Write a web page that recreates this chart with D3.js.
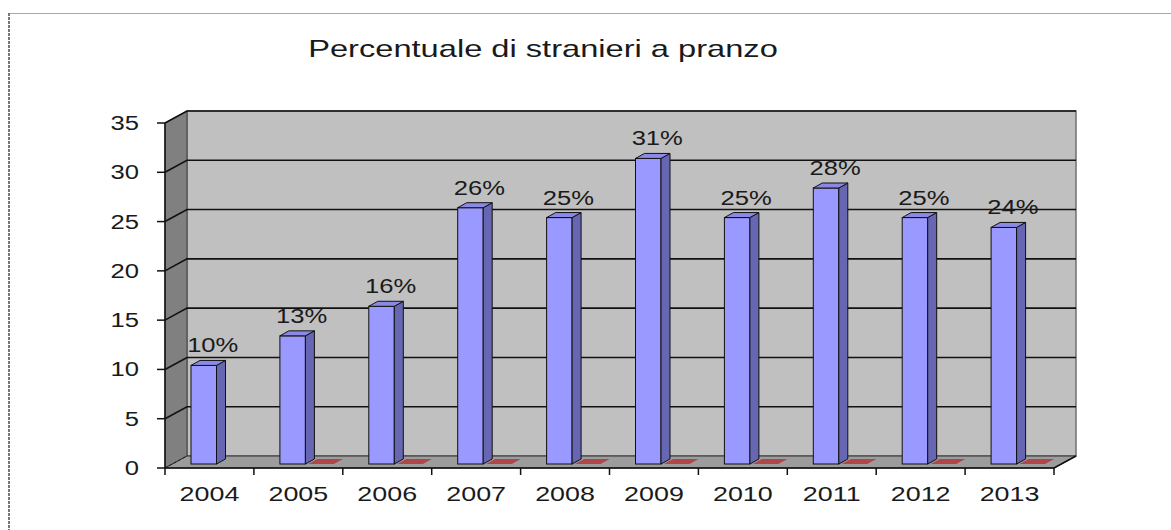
<!DOCTYPE html>
<html><head><meta charset="utf-8">
<script src="https://cdn.jsdelivr.net/npm/d3@7"></script>
<style>body{margin:0;background:#fff;} svg{display:block;}</style>
</head><body>
<svg id="c" width="1171" height="530"></svg>
<script>
const title = "Percentuale di stranieri a pranzo";
const categories = ["2004","2005","2006","2007","2008","2009","2010","2011","2012","2013"];
const values = [10,13,16,26,25,31,25,28,25,24];
const series2 = [null,0,0,0,0,0,0,0,0,0];
const yTicks = [0,5,10,15,20,25,30,35];

const svg = d3.select("#c");
const font = "'Liberation Sans', Arial, sans-serif";
const SX = 1.28;

// frame
svg.append("line").attr("x1",8.5).attr("x2",1171).attr("y1",13.5).attr("y2",13.5).attr("stroke","#a8a8a8").attr("stroke-width",1);
svg.append("line").attr("x1",9).attr("x2",9).attr("y1",13).attr("y2",530).attr("stroke","#777").attr("stroke-width",2).attr("stroke-dasharray","3,1");

const x0 = 165, x1 = 1054;
const depthX = 22, depthY = -12;
const x = d3.scaleBand().domain(categories).range([x0, x1]).padding(0);
const y = d3.scaleLinear().domain([0,35]).range([468,123]);

const g = svg.append("g");
// back wall
g.append("rect").attr("x",x0+depthX).attr("y",y(35)+depthY).attr("width",x1-x0).attr("height",y(0)-y(35))
 .attr("fill","#c0c0c0").attr("stroke","#707070").attr("stroke-width",1.5);
// side wall
g.append("polygon").attr("points",[[x0,y(35)],[x0+depthX,y(35)+depthY],[x0+depthX,y(0)+depthY],[x0,y(0)]].join(" "))
 .attr("fill","#808080").attr("stroke","#404040").attr("stroke-width",1);
// floor
g.append("polygon").attr("points",[[x0,y(0)],[x0+depthX,y(0)+depthY],[x1+depthX,y(0)+depthY],[x1,y(0)]].join(" "))
 .attr("fill","#9c9c9c").attr("stroke","#303030").attr("stroke-width",1);
// gridlines
yTicks.forEach(t => {
  if (t===0) return;
  g.append("polyline").attr("points",[[x0,y(t)],[x0+depthX,y(t)+depthY],[x1+depthX,y(t)+depthY]].join(" "))
   .attr("fill","none").attr("stroke","#111").attr("stroke-width",1.6);
});
// dashed base line on side wall at 0
g.append("line").attr("x1",x0).attr("y1",y(0)).attr("x2",x0+depthX).attr("y2",y(0)+depthY)
 .attr("stroke","#222").attr("stroke-dasharray","3,2").attr("stroke-width",1);

// axes
g.append("line").attr("x1",x0).attr("x2",x0).attr("y1",y(35)).attr("y2",y(0)).attr("stroke","#111").attr("stroke-width",1.5);
g.append("line").attr("x1",x0).attr("x2",x1).attr("y1",y(0)).attr("y2",y(0)).attr("stroke","#111").attr("stroke-width",1.5);
g.append("line").attr("x1",x1).attr("x2",x1+depthX).attr("y1",y(0)).attr("y2",y(0)+depthY).attr("stroke","#111").attr("stroke-width",1.5);

// y ticks and labels
yTicks.forEach(t => {
  g.append("line").attr("x1",x0-8).attr("x2",x0).attr("y1",y(t)).attr("y2",y(t)).attr("stroke","#111").attr("stroke-width",1.5);
  g.append("text").attr("transform",`translate(139,${y(t)+7}) scale(${SX},1)`).attr("text-anchor","end")
   .attr("font-family",font).attr("font-size",20).attr("fill","#1a1a1a").text(t);
});
// x ticks
const bounds = categories.map(c => x(c)).concat([x1]);
bounds.forEach(b => {
  g.append("line").attr("x1",b).attr("x2",b).attr("y1",y(0)).attr("y2",y(0)+7).attr("stroke","#111").attr("stroke-width",1.5);
});
categories.forEach(c => {
  g.append("text").attr("transform",`translate(${x(c)+x.bandwidth()/2},501) scale(${SX},1)`).attr("text-anchor","middle")
   .attr("font-family",font).attr("font-size",21).attr("fill","#1a1a1a").text(c);
});

// bars
const bw = 25.5, off = 26, bdx = 9, bdy = -5, baseShift = -4;
function bar3d(px, v, colFront, colSide, colTop) {
  const yb = y(0) + baseShift, yt = y(v) + baseShift;
  const bg = g.append("g");
  if (v > 0) {
    bg.append("rect").attr("x",px).attr("y",yt).attr("width",bw).attr("height",yb-yt)
      .attr("fill",colFront).attr("stroke","#111").attr("stroke-width",1);
    bg.append("polygon").attr("points",[[px+bw,yt],[px+bw+bdx,yt+bdy],[px+bw+bdx,yb+bdy],[px+bw,yb]].join(" "))
      .attr("fill",colSide).attr("stroke","#111").attr("stroke-width",1);
    bg.append("polygon").attr("points",[[px,yt],[px+bdx,yt+bdy],[px+bw+bdx,yt+bdy],[px+bw,yt]].join(" "))
      .attr("fill",colTop).attr("stroke","#111").attr("stroke-width",1);
  } else {
    bg.append("polygon").attr("points",[[px,yt],[px+bdx,yt+bdy],[px+bw+bdx,yt+bdy],[px+bw,yt]].join(" "))
      .attr("fill",colTop).attr("stroke","none");
  }
}
categories.forEach((c,i) => {
  const s2 = series2[i];
  if (s2 !== null) bar3d(x(c)+off+bw+3, s2, "#b04040", "#903030", "#b0454a");
});
categories.forEach((c,i) => {
  bar3d(x(c)+off, values[i], "#9999ff", "#6666b3", "#8a8ae6");
  g.append("text").attr("transform",`translate(${x(c)+off+bw/2+9},${y(values[i])+baseShift-13}) scale(${SX},1)`)
   .attr("text-anchor","middle").attr("font-family",font).attr("font-size",20).attr("fill","#1a1a1a").text(values[i]+"%");
});

// title
svg.append("text").attr("transform",`translate(543,57) scale(1.36,1)`).attr("text-anchor","middle")
 .attr("font-family",font).attr("font-size",24).attr("fill","#1a1a1a").text(title);
</script>
</body></html>
